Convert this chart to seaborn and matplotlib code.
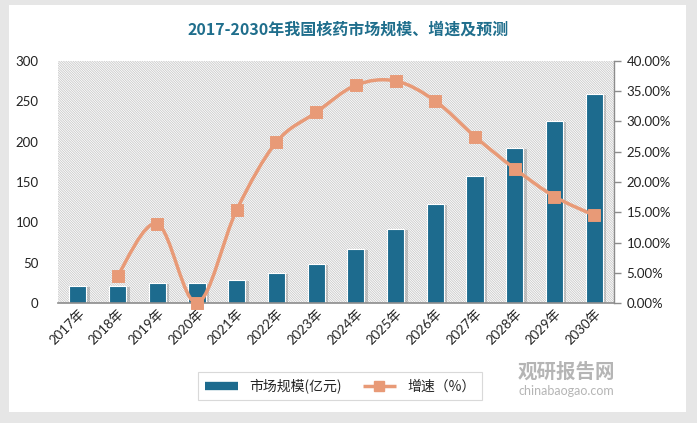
import numpy as np
import pandas as pd
import matplotlib
matplotlib.use("Agg")
import matplotlib.pyplot as plt
import seaborn as sns
from matplotlib.patches import Rectangle, PathPatch
from matplotlib.path import Path
from matplotlib.lines import Line2D
import matplotlib.patheffects as pe

years = ["2017年", "2018年", "2019年", "2020年", "2021年", "2022年", "2023年",
         "2024年", "2025年", "2026年", "2027年", "2028年", "2029年", "2030年"]
market_size = [21, 21, 25, 25, 29, 37.5, 48.5, 67, 92, 123, 157.5, 192.5, 226, 259]
growth = [np.nan, 4.5, 13.1, 0.0, 15.4, 26.6, 31.5, 36.0, 36.7, 33.4, 27.5, 22.2, 17.6, 14.5]
left_ticks = [0, 50, 100, 150, 200, 250, 300]
right_ticks = [0, 5, 10, 15, 20, 25, 30, 35, 40]

BAR = "#1d6b8e"
LINE = "#e89a77"
TITLE = "#1f6e8c"

sns.set_theme(style="white")
plt.rcParams["font.family"] = ["Lato", "Noto Sans CJK SC", "DejaVu Sans"]
plt.rcParams["hatch.linewidth"] = 0.6

fig = plt.figure(figsize=(6.97, 4.23), dpi=100)
fig.patch.set_facecolor("#e6e6e6")
card = Rectangle((9 / 697, 1 - 412 / 423), (686 - 9) / 697, (412 - 5) / 423,
                 transform=fig.transFigure, facecolor="white", edgecolor="none", zorder=-5)
fig.patches.append(card)

ax = fig.add_axes([58 / 697, 1 - 303 / 423, (614 - 58) / 697, (303 - 61) / 423])
ax.set_facecolor("none")

df = pd.DataFrame({"year": years, "size": market_size, "growth": growth})

# hatched plot background
bg = Rectangle((0, 0), 1, 1, transform=ax.transAxes, facecolor="white",
               edgecolor="#c9c9c9", hatch="\\" * 14, linewidth=0, zorder=0)
ax.add_patch(bg)

sns.barplot(data=df, x="year", y="size", color=BAR, width=0.43, ax=ax,
            edgecolor="white", linewidth=0.8, saturation=1, zorder=3)
for p in ax.patches:
    if p is bg:
        continue
    p.set_path_effects([pe.SimplePatchShadow(offset=(2.5, -1), shadow_rgbFace="#666666", alpha=0.3),
                        pe.Normal()])

ax.set_xlim(-0.5, len(years) - 0.5)
ax.set_ylim(0, 300)
ax.set_yticks(left_ticks)
ax.set_yticklabels([str(t) for t in left_ticks], fontsize=9.5, color="#222222")
ax.set_xlabel("")
ax.set_ylabel("")
for s in ["left", "top", "right"]:
    ax.spines[s].set_visible(False)
ax.spines["bottom"].set_color("#8c8c8c")
ax.spines["bottom"].set_linewidth(1.2)
ax.spines["bottom"].set_zorder(6)
ax.tick_params(axis="y", length=0, pad=14)
ax.tick_params(axis="x", length=0, pad=3)
ax.set_xticks(range(len(years)))
ax.set_xticklabels(years, rotation=45, ha="right", rotation_mode="anchor", fontsize=9.5, color="#222222")

ax2 = ax.twinx()
ax2.set_ylim(0, 40)
ax2.set_xlim(-0.5, len(years) - 0.5)

# smooth line (Catmull-Rom style bezier through data points)
xs = np.arange(len(years))[1:].astype(float)
ys = np.array(growth[1:], dtype=float)
verts = [(xs[0], ys[0])]
codes = [Path.MOVETO]
n = len(xs)
for i in range(n - 1):
    p0 = np.array([xs[max(i - 1, 0)], ys[max(i - 1, 0)]])
    p1 = np.array([xs[i], ys[i]])
    p2 = np.array([xs[i + 1], ys[i + 1]])
    p3 = np.array([xs[min(i + 2, n - 1)], ys[min(i + 2, n - 1)]])
    c1 = p1 + (p2 - p0) / 6
    c2 = p2 - (p3 - p1) / 6
    verts += [tuple(c1), tuple(c2), tuple(p2)]
    codes += [Path.CURVE4] * 3
curve = PathPatch(Path(verts, codes), facecolor="none", edgecolor=LINE, linewidth=2.5,
                  zorder=4, clip_on=False)
ax2.add_patch(curve)
sns.scatterplot(x=xs, y=ys, marker="s", s=70, color=LINE, edgecolor=LINE, ax=ax2,
                zorder=5, clip_on=False, legend=False)

ax2.set_yticks(right_ticks)
ax2.set_yticklabels([f"{t:.2f}%" for t in right_ticks], fontsize=9.5, color="#222222")
for s in ["left", "top", "bottom"]:
    ax2.spines[s].set_visible(False)
ax2.spines["right"].set_visible(True)
ax2.spines["right"].set_color("#8c8c8c")
ax2.spines["right"].set_linewidth(1.0)
ax2.tick_params(axis="y", which="major", direction="out", length=5, width=1.0,
                color="#8c8c8c", pad=4, right=True)
ax2.set_ylabel("")
ax2.grid(False)
ax.grid(False)

fig.text(0.5, 1 - 30 / 423, "2017-2030年我国核药市场规模、增速及预测", ha="center", va="center",
         fontsize=11.5, fontweight="bold", color=TITLE, family=["Noto Sans CJK SC", "DejaVu Sans"])

handles = [Line2D([0], [0], color=BAR, linewidth=6, solid_capstyle="butt"),
           Line2D([0], [0], color=LINE, linewidth=2.5, marker="s", markersize=7,
                  solid_capstyle="butt")]
leg = fig.legend(handles, ["市场规模(亿元)", "增速（%）"], loc="center",
                 bbox_to_anchor=(340 / 697, 1 - 386 / 423), ncol=2, frameon=True,
                 fancybox=False, edgecolor="#d0d0d0", handlelength=2.4,
                 columnspacing=1.5, borderpad=0.5,
                 prop={"family": ["Noto Sans CJK SC", "DejaVu Sans"], "size": 10})
leg.get_frame().set_linewidth(0.8)

fig.text(566 / 697, 1 - 372 / 423, "观研报告网", ha="center", va="center", fontsize=14,
         fontweight="bold", color="#b5b5b5", family=["Noto Sans CJK SC"])
fig.text(566 / 697, 1 - 391 / 423, "chinabaogao.com", ha="center", va="center", fontsize=9,
         color="#b5b5b5", family=["Lato", "DejaVu Sans"])

fig.savefig("out.png", dpi=100, facecolor=fig.get_facecolor())
